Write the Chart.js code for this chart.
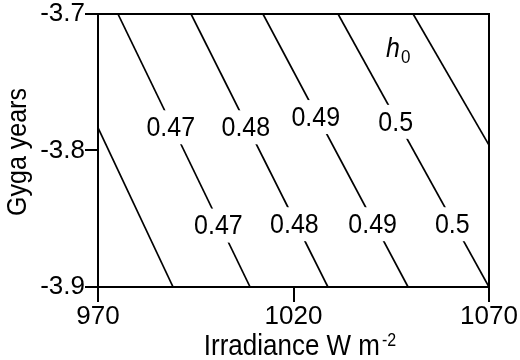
<!DOCTYPE html>
<html>
<head>
<meta charset="utf-8">
<script src="https://cdn.jsdelivr.net/npm/chart.js@4"></script>
<style>
  html, body { margin: 0; padding: 0; background: #fff; }
  #wrap { width: 520px; height: 360px; }
</style>
</head>
<body>
<div id="wrap"><canvas id="h0Chart"></canvas></div>
<script>
// Contour levels of h0 and where each straight contour crosses the top (-3.7) and bottom (-3.9) of the frame
const levels = [0.46, 0.47, 0.48, 0.49, 0.50, 0.51];
const xAtTop = [956.3, 975.1, 993.8, 1012.2, 1031.4, 1050.6];
const xAtBottom = [989.2, 1008.9, 1028.8, 1049.3, 1070.0, 1091.0];

// Which contours carry labels, and at what age the two label rows sit
const labelLevels = [0.47, 0.48, 0.49, 0.5];
const upperLabelAge = [-3.783, -3.783, -3.7755, -3.779];
const lowerLabelAge = [-3.855, -3.854, -3.854, -3.854];

const xTicks = [970, 1020, 1070];
const yTicks = [-3.7, -3.8, -3.9];
const yTop = -3.7, yBottom = -3.9;

const FONT = '"Liberation Sans", Arial, sans-serif';
const STRETCH = 1.12; // glyphs are a bit taller than plain Arial

// x position of a contour at a given age (contours are straight lines)
function contourX(k, age) {
    const t = (age - yTop) / (yBottom - yTop);
    return xAtTop[k] + t * (xAtBottom[k] - xAtTop[k]);
}

// draw text stretched vertically about its anchor point
function tallText(ctx, txt, x, y) {
    ctx.save();
    ctx.translate(x, y);
    ctx.scale(1, STRETCH);
    ctx.fillText(txt, 0, 0);
    ctx.restore();
}

const datasets = levels.map((lv, k) => ({
    label: String(lv),
    data: [{ x: xAtTop[k], y: yTop }, { x: xAtBottom[k], y: yBottom }],
    showLine: true,
    borderColor: '#000',
    borderWidth: 1.7,
    pointRadius: 0
}));

// Frame, inline contour labels, panel tag and axis titles
const contourDecor = {
    id: 'contourDecor',
    afterDatasetsDraw(chart) {
        const { ctx, chartArea: a, scales: { x, y } } = chart;
        ctx.save();

        ctx.font = '25px ' + FONT;
        ctx.textAlign = 'center';
        ctx.textBaseline = 'middle';
        labelLevels.forEach((lv, i) => {
            const k = levels.indexOf(lv);
            [upperLabelAge[i], lowerLabelAge[i]].forEach(age => {
                const px = x.getPixelForValue(contourX(k, age));
                const py = y.getPixelForValue(age);
                const txt = String(lv);
                const w = ctx.measureText(txt).width + 6;
                ctx.fillStyle = '#fff';
                ctx.fillRect(px - w / 2, py - 17, w, 34);
                ctx.fillStyle = '#000';
                tallText(ctx, txt, px - 2, py + 1);
            });
        });

        ctx.strokeStyle = '#000';
        ctx.lineWidth = 2;
        ctx.strokeRect(a.left, a.top, a.right - a.left, a.bottom - a.top);

        // h0 tag
        ctx.textAlign = 'left';
        ctx.textBaseline = 'alphabetic';
        ctx.font = 'italic 25px ' + FONT;
        tallText(ctx, 'h', 386, 57);
        ctx.font = '17px ' + FONT;
        tallText(ctx, '0', 401, 63);

        // y title
        ctx.save();
        ctx.translate(18, 152);
        ctx.rotate(-Math.PI / 2);
        ctx.textAlign = 'center';
        ctx.textBaseline = 'middle';
        ctx.font = '25px ' + FONT;
        ctx.scale(1, STRETCH);
        ctx.fillText('Gyga years', 0, 0);
        ctx.restore();

        // x title with superscript unit
        const main = 'Irradiance W m';
        const sup = '-2';
        ctx.font = '26px ' + FONT;
        const wMain = ctx.measureText(main).width;
        ctx.font = '16px ' + FONT;
        const wSup = ctx.measureText(sup).width;
        const left = 300 - (wMain + 2 + wSup) / 2;
        ctx.font = '26px ' + FONT;
        tallText(ctx, main, left, 355);
        ctx.font = '16px ' + FONT;
        tallText(ctx, sup, left + wMain + 2, 346);

        ctx.restore();
    }
};

new Chart(document.getElementById('h0Chart').getContext('2d'), {
    type: 'scatter',
    data: { datasets },
    options: {
        responsive: true,
        maintainAspectRatio: false,
        animation: false,
        events: [],
        layout: { padding: { left: 0, right: 31, top: 14, bottom: 0 } },
        plugins: { legend: { display: false }, tooltip: { enabled: false } },
        scales: {
            x: {
                type: 'linear', min: 970, max: 1070,
                afterBuildTicks: (s) => { s.ticks = xTicks.map(v => ({ value: v })); },
                afterFit: (s) => { s.height = 73; },
                grid: { drawOnChartArea: false, drawTicks: true, tickLength: 15, color: '#000', lineWidth: 2 },
                border: { display: true, color: '#000', width: 2 },
                ticks: { color: '#000', padding: 2, maxRotation: 0, font: { family: FONT, size: 26, lineHeight: 1 }, callback: (v) => String(v) }
            },
            y: {
                type: 'linear', min: -3.9, max: -3.7,
                afterBuildTicks: (s) => { s.ticks = yTicks.map(v => ({ value: v })); },
                afterFit: (s) => { s.width = 98; },
                grid: { drawOnChartArea: false, drawTicks: true, tickLength: 13, color: '#000', lineWidth: 2 },
                border: { display: true, color: '#000', width: 2 },
                ticks: { color: '#000', padding: 0, font: { family: FONT, size: 26, lineHeight: 1 }, callback: (v) => v.toFixed(1) }
            }
        }
    },
    plugins: [contourDecor]
});
</script>
</body>
</html>
